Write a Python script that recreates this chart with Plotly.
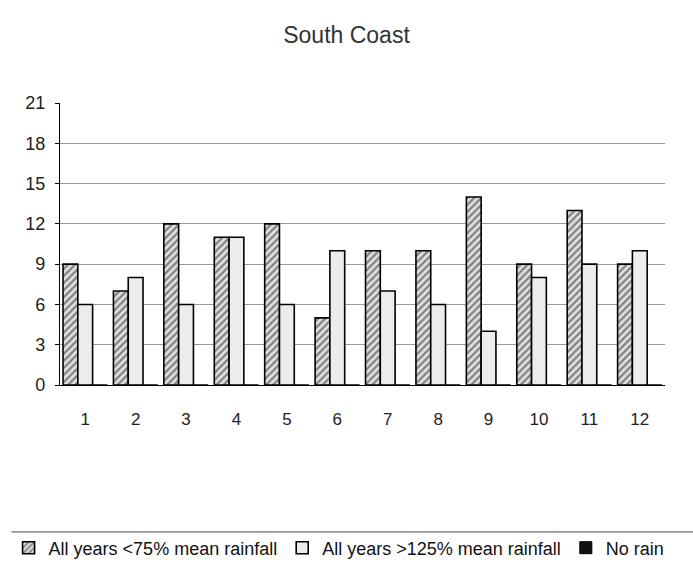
import plotly.graph_objects as go

months = [str(i) for i in range(1, 13)]
below75 = [9, 7, 12, 11, 12, 5, 10, 10, 14, 9, 13, 9]
above125 = [6, 8, 6, 11, 6, 10, 7, 6, 4, 8, 9, 10]
no_rain = [0] * 12
y_ticks = [0, 3, 6, 9, 12, 15, 18, 21]

fig = go.Figure()
fig.add_trace(go.Bar(
    x=months, y=below75, name="All years <75% mean rainfall",
    marker=dict(color="#d8d8d8", line=dict(color="black", width=1.6),
                pattern=dict(shape="/", fgcolor="#222222", bgcolor="#e0e0e0", size=5, solidity=0.45)),
))
fig.add_trace(go.Bar(
    x=months, y=above125, name="All years >125% mean rainfall",
    marker=dict(color="#ececec", line=dict(color="black", width=1.6)),
))
fig.add_trace(go.Bar(
    x=months, y=no_rain, name="No rain",
    marker=dict(color="#111111", line=dict(color="black", width=1)),
))

fig.update_layout(
    width=693, height=571,
    margin=dict(l=60, r=28, t=103, b=186, autoexpand=False),
    paper_bgcolor="white", plot_bgcolor="white",
    font=dict(family="Liberation Sans, Arial, sans-serif", color="#222222", size=17),
    title=dict(text="South Coast", x=0.5, xanchor="center", y=0.938, yanchor="middle",
               font=dict(size=23, color="#333333")),
    barmode="group", bargap=0.12, bargroupgap=0,
    showlegend=True,
    legend=dict(orientation="h", x=-0.085, xanchor="left", y=-0.578, yanchor="middle",
                font=dict(size=18, color="#111111"), itemwidth=30, tracegroupgap=0,
                bgcolor="rgba(0,0,0,0)"),
    shapes=[dict(type="line", xref="paper", yref="paper", x0=-0.08, x1=1.05,
                 y0=-0.521, y1=-0.521, line=dict(color="#444444", width=1))],
)
fig.update_xaxes(showline=True, linecolor="black", linewidth=1.2, ticks="",
                 showgrid=False, tickfont=dict(size=17), ticklabelstandoff=18)
fig.update_yaxes(range=[0, 21], tickvals=y_ticks, showline=True, linecolor="black",
                 linewidth=1.2, ticks="outside", ticklen=4, tickcolor="black",
                 showgrid=True, gridcolor="#9a9a9a", gridwidth=1,
                 zeroline=False, tickfont=dict(size=18), ticklabelstandoff=6)

fig.write_html("out.html")
